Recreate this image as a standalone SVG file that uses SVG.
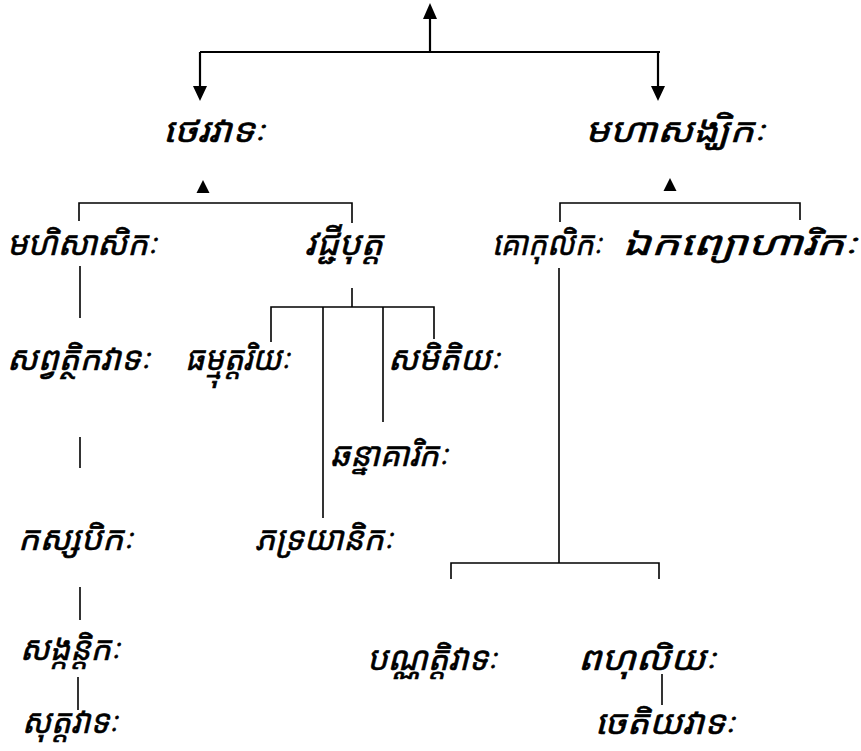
<svg xmlns="http://www.w3.org/2000/svg" width="861" height="751" viewBox="0 0 861 751">
<style>
  .t { font-family: "Noto Sans Khmer", "Khmer OS", "Noto Serif Khmer", "Noto Sans", "DejaVu Sans", sans-serif; font-size: 33px; font-style: italic; font-weight: normal; fill: #000; stroke: #000; stroke-width: 0.6; }
  .l { stroke: #000; stroke-width: 1.6; fill: none; }
  .lt { stroke: #000; stroke-width: 2.2; fill: none; }
  .tri { fill: #000; }
</style>
<g id="connectors">
  <path class="lt" d="M430,52 V19"/>
  <polygon class="tri" points="430,3 423,19 437,19"/>
  <path class="lt" d="M200,52 H660"/>
  <path class="lt" d="M200,52 V86"/>
  <polygon class="tri" points="200,101 193,86 207,86"/>
  <path class="lt" d="M658,52 V86"/>
  <polygon class="tri" points="658,101 651,86 665,86"/>
  <polygon class="tri" points="203,180 196.5,193 209.5,193"/>
  <path class="l" d="M79,221 V203 H352 V223"/>
  <polygon class="tri" points="670,178 663.5,191 676.5,191"/>
  <path class="l" d="M560,222 V203 H800 V220"/>
  <path class="l" d="M80,266 V318"/>
  <path class="l" d="M80,437 V468"/>
  <path class="l" d="M80,587 V620"/>
  <path class="l" d="M78,677 V710"/>
  <path class="l" d="M352,288 V307"/>
  <path class="l" d="M271,342 V307 H434 V339"/>
  <path class="l" d="M323,307 V518"/>
  <path class="l" d="M383,307 V422"/>
  <path class="l" d="M559,268 V563"/>
  <path class="l" d="M451,579 V563 H659 V579"/>
  <path class="l" d="M662,674 V705"/>
</g>
<g id="n-theravada"><text class="t" x="163" y="142" textLength="102" lengthAdjust="spacingAndGlyphs">ថេរវាទៈ</text></g>
<g id="n-mahasanghika"><text class="t" x="585" y="142" textLength="180" lengthAdjust="spacingAndGlyphs">មហាសង្ឃិកៈ</text></g>
<g id="n-mahisasaka"><text class="t" x="7" y="255" textLength="150" lengthAdjust="spacingAndGlyphs">មហិសាសិកៈ</text></g>
<g id="n-vajjiputta"><text class="t" x="305" y="255" textLength="78" lengthAdjust="spacingAndGlyphs">វជ្ជីបុត្ត</text></g>
<g id="n-gokulika"><text class="t" x="492" y="255" textLength="110" lengthAdjust="spacingAndGlyphs">គោកុលិកៈ</text></g>
<g id="n-ekavyavaharika"><text class="t" x="622" y="255" textLength="235" lengthAdjust="spacingAndGlyphs">ឯកព្យោហារិកៈ</text></g>
<g id="n-sarvastivada"><text class="t" x="7" y="370" textLength="143" lengthAdjust="spacingAndGlyphs">សព្វត្ថិកវាទៈ</text></g>
<g id="n-dhammuttariya"><text class="t" x="185" y="370" textLength="105" lengthAdjust="spacingAndGlyphs">ធម្មុត្តរិយៈ</text></g>
<g id="n-sammitiya"><text class="t" x="388" y="370" textLength="112" lengthAdjust="spacingAndGlyphs">សមិតិយៈ</text></g>
<g id="n-channagarika"><text class="t" x="330" y="466" textLength="118" lengthAdjust="spacingAndGlyphs">ឆន្នាគារិកៈ</text></g>
<g id="n-kassapika"><text class="t" x="18" y="550" textLength="115" lengthAdjust="spacingAndGlyphs">កស្សបិកៈ</text></g>
<g id="n-bhadrayanika"><text class="t" x="255" y="550" textLength="138" lengthAdjust="spacingAndGlyphs">ភទ្រយានិកៈ</text></g>
<g id="n-sankantika"><text class="t" x="20" y="660" textLength="100" lengthAdjust="spacingAndGlyphs">សង្កន្តិកៈ</text></g>
<g id="n-suttavada"><text class="t" x="22" y="733" textLength="96" lengthAdjust="spacingAndGlyphs">សុត្តវាទៈ</text></g>
<g id="n-pannattivada"><text class="t" x="367" y="670" textLength="130" lengthAdjust="spacingAndGlyphs">បណ្ណត្តិវាទៈ</text></g>
<g id="n-bahuliya"><text class="t" x="578" y="670" textLength="138" lengthAdjust="spacingAndGlyphs">ពហុលិយៈ</text></g>
<g id="n-cetiyavada"><text class="t" x="595" y="734" textLength="140" lengthAdjust="spacingAndGlyphs">ចេតិយវាទៈ</text></g>
</svg>
